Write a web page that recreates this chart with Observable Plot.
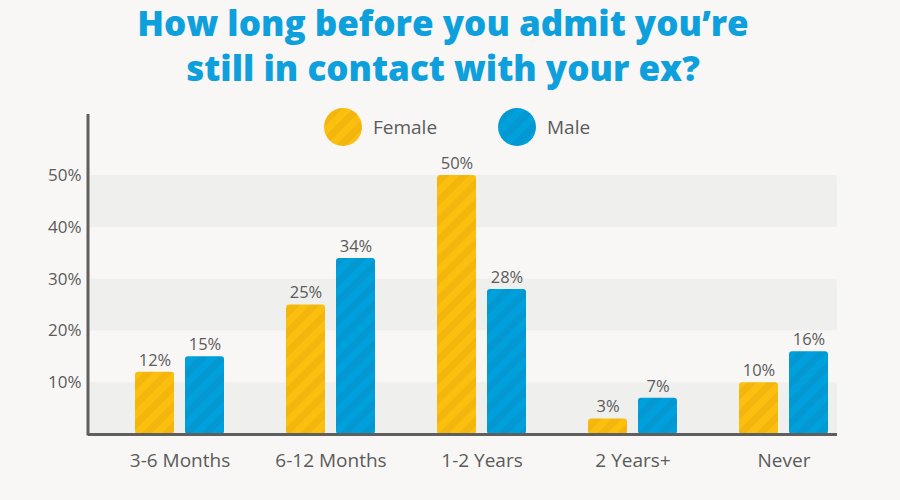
<!DOCTYPE html>
<html><head><meta charset="utf-8">
<script src="https://cdn.jsdelivr.net/npm/d3@7"></script>
<script src="https://cdn.jsdelivr.net/npm/@observablehq/plot@0.6"></script>
<style>
html,body{margin:0;padding:0;background:#f8f7f5;}
#wrap{position:relative;width:900px;height:500px;overflow:hidden;font-family:"Open Sans",sans-serif;background:#f8f7f5;}
#title{position:absolute;left:0;top:0;width:886px;text-align:center;font-family:"Open Sans",sans-serif;font-weight:800;font-size:35px;line-height:45px;color:#0ea0dc;margin:0;}
#chart{position:absolute;left:0;top:100px;}
.leg{position:absolute;top:108px;height:38px;display:flex;align-items:center;font-size:19px;color:#5b5b5b;z-index:2;}
.sw{width:38px;height:38px;border-radius:50%;margin-right:11px;}
</style></head><body>
<div id="wrap">
  <div id="title">How long before you admit you’re<br>still in contact with your ex?</div>
  <div id="chart"></div>
  <div class="leg" style="left:324px"><div class="sw" style="background:repeating-linear-gradient(135deg,#fbbf10 0 7px,#f4b60c 7px 14px)"></div>Female</div>
  <div class="leg" style="left:498px"><div class="sw" style="background:repeating-linear-gradient(135deg,#00a0dc 0 7px,#0398d1 7px 14px)"></div>Male</div>
</div>
<script>
const categories = ["3-6 Months", "6-12 Months", "1-2 Years", "2 Years+", "Never"];
const female = [12, 25, 50, 3, 10];
const male = [15, 34, 28, 7, 16];
const yTicks = [10, 20, 30, 40, 50];
const bandRanges = [[0, 10], [20, 30], [40, 50]];

const femaleRows = categories.map((c, i) => ({cat: c, value: female[i]}));
const maleRows = categories.map((c, i) => ({cat: c, value: male[i]}));
const bands = bandRanges.map(([lo, hi]) => ({lo, hi}));

const NS = "http://www.w3.org/2000/svg";
function defsMark() {
  const defs = document.createElementNS(NS, "defs");
  const mk = (id, base, stripe) => {
    const p = document.createElementNS(NS, "pattern");
    p.setAttribute("id", id);
    p.setAttribute("patternUnits", "userSpaceOnUse");
    p.setAttribute("width", "14");
    p.setAttribute("height", "14");
    p.setAttribute("patternTransform", "rotate(45)");
    const r1 = document.createElementNS(NS, "rect");
    r1.setAttribute("width", "14"); r1.setAttribute("height", "14"); r1.setAttribute("fill", base);
    const r2 = document.createElementNS(NS, "rect");
    r2.setAttribute("width", "7"); r2.setAttribute("height", "14"); r2.setAttribute("fill", stripe);
    p.appendChild(r1); p.appendChild(r2);
    defs.appendChild(p);
  };
  mk("stripeF", "#fbbf10", "#f4b60c");
  mk("stripeM", "#00a0dc", "#0398d1");
  return defs;
}
function leftAxisLine(index, scales, values, dims) {
  const l = document.createElementNS(NS, "line");
  l.setAttribute("x1", dims.marginLeft);
  l.setAttribute("x2", dims.marginLeft);
  l.setAttribute("y1", dims.marginTop);
  l.setAttribute("y2", dims.height - dims.marginBottom + 1.5);
  l.setAttribute("stroke", "#5f5f5f");
  l.setAttribute("stroke-width", "3");
  return l;
}

const chart = Plot.plot({
  width: 900,
  height: 400,
  marginLeft: 88,
  marginRight: 63,
  marginTop: 14,
  marginBottom: 66,
  style: {background: "transparent", fontFamily: "'Open Sans', sans-serif", color: "#5b5b5b"},
  x: {domain: categories, range: [104, 859], padding: 0, round: false, label: null},
  y: {domain: [0, 61.8], label: null},
  marks: [
    defsMark,
    Plot.rect(bands, {y1: "lo", y2: "hi", fill: "#efefed", rx: 2}),
    Plot.barY(femaleRows, {x: "cat", y: "value", fill: "url(#stripeF)", insetLeft: 31, insetRight: 81, rx: 3}),
    Plot.barY(maleRows, {x: "cat", y: "value", fill: "url(#stripeM)", insetLeft: 81, insetRight: 31, rx: 3}),
    Plot.text(femaleRows, {x: "cat", y: "value", text: d => d.value + "%", dx: -25, dy: -12, fontSize: 16.5, fill: "#5b5b5b"}),
    Plot.text(maleRows, {x: "cat", y: "value", text: d => d.value + "%", dx: 25, dy: -12, fontSize: 16.5, fill: "#5b5b5b"}),
    Plot.ruleY([0], {stroke: "#5f5f5f", strokeWidth: 3}),
    leftAxisLine,
    Plot.axisY({ticks: yTicks, tickFormat: d => d + "%", tickSize: 0, tickPadding: 7, fontSize: 17, fill: "#5b5b5b"}),
    Plot.axisX({tickSize: 0, tickPadding: 19, fontSize: 19, fill: "#5b5b5b"})
  ]
});
document.getElementById("chart").appendChild(chart);
</script>
</body></html>
